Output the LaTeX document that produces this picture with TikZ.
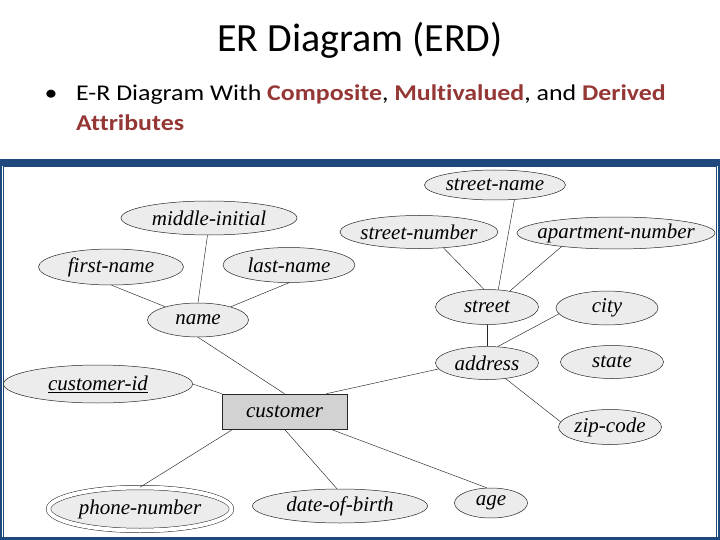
\documentclass[tikz,border=0pt]{standalone}
\usepackage{fontspec}
\setmainfont{Carlito}[Ligatures=NoCommon]
\newfontfamily\bulletfont{Carlito}[Ligatures=NoCommon, FakeStretch=1.15]
\newfontfamily\erfont{Liberation Serif}
\usepackage{xcolor}
\usetikzlibrary{shapes.geometric}
\definecolor{frameblue}{RGB}{31,73,125}
\definecolor{keyred}{RGB}{149,55,53}
\tikzset{
  attr/.style={draw=black!85, ellipse, fill=gray!15, line width=0.5pt, inner xsep=-20pt, inner ysep=0pt,
               font=\erfont\itshape\fontsize{21}{21}\selectfont},
  ent/.style={draw=black!85, rectangle, fill=gray!35, line width=0.6pt, inner sep=0pt,
              font=\erfont\itshape\fontsize{21}{21}\selectfont},
  link/.style={black!85, line width=0.45pt},
  slide/.style={inner sep=0pt, font=\bulletfont\fontsize{22.5}{29}\selectfont},
}

\begin{document}
\begin{tikzpicture}[x=1pt, y=-1pt]
  \useasboundingbox (0,0) rectangle (720,540);
  % slide heading
  \node[anchor=base, inner sep=0pt, font=\fontsize{40}{48}\selectfont] (title) at (360,52) {ER Diagram (ERD)};
  \node[slide, anchor=base] (dot) at (51,101) {\textbullet};
  \node[slide, anchor=base west] (line1) at (76,101)
    {E-R Diagram With \textcolor{keyred}{\textbf{Composite}}, \textcolor{keyred}{\textbf{Multivalued}}, and \textcolor{keyred}{\textbf{Derived}}};
  \node[slide, anchor=base west] (line2) at (76,131) {\textcolor{keyred}{\textbf{Attributes}}};
  % frame
  \fill[frameblue] (0,159) rectangle (720,540);
  \fill[white] (2,166) rectangle (718,537);
  \draw[frameblue, line width=0.6pt] (3.5,166) rectangle (716.5,537);
  % entity and attributes
  \node[ent, minimum width=125pt, minimum height=35pt] (customer) at (284.5,411.5) {customer};
  \node[attr, minimum width=141pt, minimum height=30pt] (streetname) at (495,185) {street-name};
  \node[attr, minimum width=176pt, minimum height=34pt] (midinit) at (209,218) {middle-initial};
  \node[attr, minimum width=158pt, minimum height=33pt] (streetnum) at (419,232) {street-number};
  \node[attr, minimum width=198pt, minimum height=32pt] (aptnum) at (616,233) {apartment-number};
  \node[attr, minimum width=145pt, minimum height=36pt] (firstname) at (111,267) {first-name};
  \node[attr, minimum width=132pt, minimum height=35pt] (lastname) at (289,265) {last-name};
  \node[attr, minimum width=101pt, minimum height=34pt] (name) at (198,320) {name};
  \node[attr, minimum width=103pt, minimum height=35pt] (street) at (487,307) {street};
  \node[attr, minimum width=102pt, minimum height=34pt] (city) at (607,308) {city};
  \node[attr, minimum width=103pt, minimum height=33pt] (address) at (487,363) {address};
  \node[attr, minimum width=103pt, minimum height=33pt] (state) at (612,362) {state};
  \node[attr, minimum width=189pt, minimum height=38pt] (custid) at (98,384) {\underline{customer-id}};
  \node[attr, minimum width=103pt, minimum height=35pt] (zipcode) at (610,427) {zip-code};
  \node[attr, minimum width=183pt, minimum height=43pt, double, double distance=4pt] (phone) at (140,509) {phone-number};
  \node[attr, minimum width=175pt, minimum height=34pt] (dob) at (340,506) {date-of-birth};
  \node[attr, minimum width=73pt, minimum height=30pt] (age) at (491,503) {age};
  % connectors
  \draw[link] (midinit.-95) -- (name.north);
  \draw[link] (firstname.-88) -- (name.158);
  \draw[link] (lastname.-90) -- (name.22);
  \draw[link] (name.south) -- (customer.north);
  \draw[link] (streetname.-37) -- (street.57);
  \draw[link] (streetnum.-33) -- (street.100);
  \draw[link] (aptnum.-166) -- (street.35);
  \draw[link] (street.south) -- (address.north);
  \draw[link] (city.187) -- (address.57);
  \draw[link] (address.187) -- (customer.23);
  \draw[link] (address.-40) -- (zipcode.174);
  \draw[link] (custid.east) -- (customer.north west);
  \draw[link] (customer.199) -- (phone.north);
  \draw[link] (customer.south) -- (dob.100);
  \draw[link] (customer.-21) -- (age.105);
\end{tikzpicture}
\end{document}
